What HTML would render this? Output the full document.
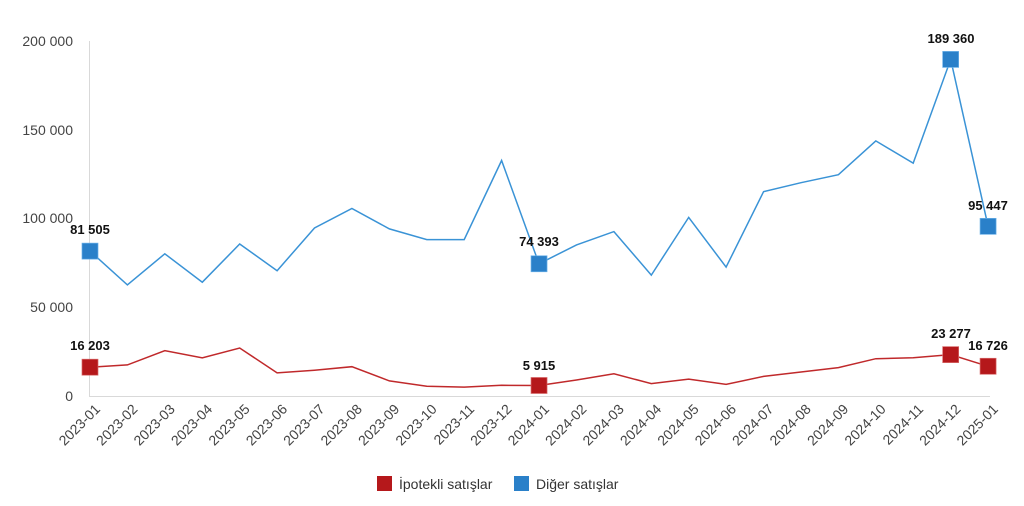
<!DOCTYPE html>
<html><head><meta charset="utf-8"><style>
html,body{margin:0;padding:0;background:#fff;}
svg text{font-family:"Liberation Sans",Arial,sans-serif;}
</style></head><body>
<svg id="s" width="1024" height="501" xmlns="http://www.w3.org/2000/svg">
<line x1="89.5" y1="41" x2="89.5" y2="396" stroke="#d9d9d9" stroke-width="1"/>
<line x1="89" y1="396.5" x2="990" y2="396.5" stroke="#d9d9d9" stroke-width="1"/>
<g font-size="14" fill="#444" text-anchor="end">
<text x="73" y="46">200 000</text>
<text x="73" y="135">150 000</text>
<text x="73" y="223">100 000</text>
<text x="73" y="312">50 000</text>
<text x="73" y="401">0</text>
</g>
<g id="xl" font-size="14" fill="#444" text-anchor="end">
<text transform="translate(101,410) rotate(-45)">2023-01</text>
<text transform="translate(138.4,410) rotate(-45)">2023-02</text>
<text transform="translate(175.8,410) rotate(-45)">2023-03</text>
<text transform="translate(213.2,410) rotate(-45)">2023-04</text>
<text transform="translate(250.7,410) rotate(-45)">2023-05</text>
<text transform="translate(288.1,410) rotate(-45)">2023-06</text>
<text transform="translate(325.5,410) rotate(-45)">2023-07</text>
<text transform="translate(362.9,410) rotate(-45)">2023-08</text>
<text transform="translate(400.3,410) rotate(-45)">2023-09</text>
<text transform="translate(437.7,410) rotate(-45)">2023-10</text>
<text transform="translate(475.1,410) rotate(-45)">2023-11</text>
<text transform="translate(512.5,410) rotate(-45)">2023-12</text>
<text transform="translate(550,410) rotate(-45)">2024-01</text>
<text transform="translate(587.4,410) rotate(-45)">2024-02</text>
<text transform="translate(624.8,410) rotate(-45)">2024-03</text>
<text transform="translate(662.2,410) rotate(-45)">2024-04</text>
<text transform="translate(699.6,410) rotate(-45)">2024-05</text>
<text transform="translate(737,410) rotate(-45)">2024-06</text>
<text transform="translate(774.4,410) rotate(-45)">2024-07</text>
<text transform="translate(811.8,410) rotate(-45)">2024-08</text>
<text transform="translate(849.3,410) rotate(-45)">2024-09</text>
<text transform="translate(886.7,410) rotate(-45)">2024-10</text>
<text transform="translate(924.1,410) rotate(-45)">2024-11</text>
<text transform="translate(961.5,410) rotate(-45)">2024-12</text>
<text transform="translate(998.9,410) rotate(-45)">2025-01</text>
</g>
<polyline id="pb" fill="none" stroke="#3a93d6" stroke-width="1.5"/>
<polyline id="pr" fill="none" stroke="#c0292b" stroke-width="1.5"/>
<g id="mk"></g>
<g font-size="13" font-weight="bold" fill="#111" text-anchor="middle">
<text x="90" y="234">81 505</text>
<text x="539" y="246">74 393</text>
<text x="951" y="43">189 360</text>
<text x="988" y="210">95 447</text>
<text x="90" y="350">16 203</text>
<text x="539" y="370">5 915</text>
<text x="951" y="338">23 277</text>
<text x="988" y="350">16 726</text>
</g>
<rect x="377" y="476" width="15" height="15" fill="#b5181b"/>
<text x="399" y="489" font-size="14" fill="#333">İpotekli satışlar</text>
<rect x="514" y="476" width="15" height="15" fill="#2a80c9"/>
<text x="536" y="489" font-size="14" fill="#333">Diğer satışlar</text>
</svg>
<script>
var b=[81505,62500,80000,64000,85500,70500,94500,105500,94000,88000,88000,132500,74393,85000,92500,68000,100500,72500,115000,120000,124500,143500,131000,189360,95447];
var r=[16203,17500,25500,21500,27000,13000,14500,16500,8500,5500,5000,6000,5915,9000,12500,7000,9500,6500,11000,13500,16000,21000,21500,23277,16726];
function X(i){return 90+i*37.42}function Y(v){return 396-v*0.0017775}
function pts(a){return a.map(function(v,i){return X(i).toFixed(1)+","+Y(v).toFixed(1)}).join(" ")}
document.getElementById("pb").setAttribute("points",pts(b));
document.getElementById("pr").setAttribute("points",pts(r));
var mk="",idx=[0,12,23,24];
idx.forEach(function(i){
mk+='<rect x="'+(X(i)-8)+'" y="'+(Y(b[i])-8)+'" width="16" height="16" fill="#2a80c9" stroke="#6ab0e8" stroke-width="0.7"/>';
mk+='<rect x="'+(X(i)-8)+'" y="'+(Y(r[i])-8)+'" width="16" height="16" fill="#b5181b" stroke="#d86a6a" stroke-width="0.7"/>';});
document.getElementById("mk").innerHTML=mk;
</script>
</body></html>
